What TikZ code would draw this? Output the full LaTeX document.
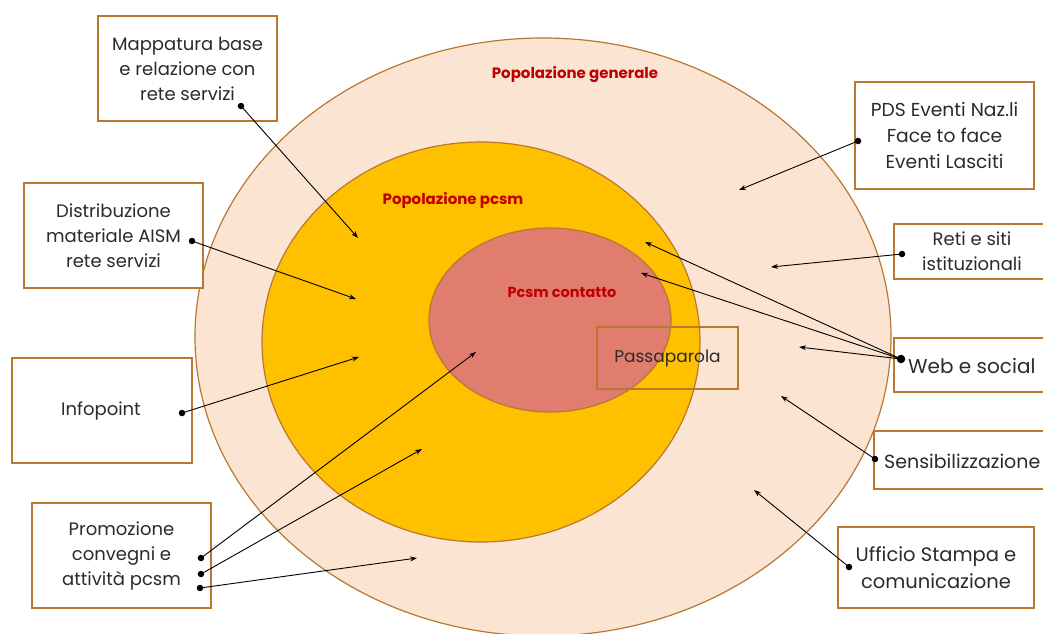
\documentclass[tikz,border=0pt]{standalone}
\usepackage{fontspec}
\setmainfont{Poppins}
\usetikzlibrary{arrows.meta}
\definecolor{peach}{HTML}{FBE5D2}
\definecolor{gold}{HTML}{FFC000}
\definecolor{rose}{HTML}{E07D6E}
\definecolor{edge}{HTML}{B87830}
\definecolor{lbl}{HTML}{C00000}
\definecolor{txt}{HTML}{2B2B2B}
\tikzset{
  ring/.style={draw=edge, line width=1.2pt},
  infobox/.style={draw=edge, line width=1.3pt, fill=white, align=center, text=txt, inner sep=0pt,
    font=\fontsize{18}{25}\selectfont},
  ringlabel/.style={text=lbl, font=\bfseries\fontsize{15}{18}\selectfont},
  link/.style={-{Stealth[length=7pt,width=5pt]}, line width=0.9pt, black},
  dot/.style={circle, fill=black, inner sep=0pt, minimum size=6.5pt}
}
\begin{document}
\begin{tikzpicture}[x=1pt,y=-1pt]
\useasboundingbox (0,0) rectangle (1043,633);
\clip (0,0) rectangle (1043,633);
% rings
\path[ring, fill=peach] (543,337) ellipse [x radius=348, y radius=299];
\path[ring, fill=gold] (481,342) ellipse [x radius=219, y radius=200];
\path[ring, fill=rose] (550,320) ellipse [x radius=121, y radius=92];
\node[ringlabel] (lg) at (575,75) {Popolazione generale};
\node[ringlabel] (lp) at (453,200) {Popolazione pcsm};
\node[ringlabel, font=\bfseries\fontsize{14.5}{18}\selectfont] (lc) at (562,292) {Pcsm contatto};
% passaparola
\node[draw=edge, line width=1.3pt, minimum width=141pt, minimum height=62pt, inner sep=0pt,
  text=txt, font=\fontsize{17}{20}\selectfont] (pp) at (667.5,358) {Passaparola};
% boxes
\node[infobox, minimum width=179pt, minimum height=105pt] (b1) at (187.5,68.5) {Mappatura base\\e relazione con\\rete servizi};
\node[infobox, minimum width=179pt, minimum height=105pt] (b2) at (113.5,235.5) {Distribuzione\\materiale AISM\\rete servizi};
\node[infobox, minimum width=180pt, minimum height=105pt] (b3) at (102,410.5) {\hspace*{-2pt}Infopoint};
\node[infobox, minimum width=179pt, minimum height=105pt] (b4) at (121.5,555.5) {Promozione\\convegni e\\attività pcsm};
\node[infobox, minimum width=179pt, minimum height=107pt, font=\fontsize{18.7}{26}\selectfont] (b5) at (944.5,135.5) {PDS Eventi Naz.li\\Face to face\\Eventi Lasciti};
\node[infobox, minimum width=156pt, minimum height=55pt] (b6) at (972,251.5) {Reti e siti\\istituzionali};
\node[infobox, minimum width=156pt, minimum height=54pt] (b7) at (972,365) {};
\node[infobox, minimum width=176pt, minimum height=58pt] (b8) at (962,460) {};
\node[infobox, minimum width=196pt, minimum height=81pt, font=\fontsize{19.5}{27}\selectfont] (b9) at (936,567.5) {Ufficio Stampa e\\comunicazione};
\node[text=txt, font=\fontsize{20}{25}\selectfont, anchor=west, inner sep=0pt] (t7) at (908,366) {Web e social};
\node[text=txt, font=\fontsize{19}{25}\selectfont, anchor=west, inner sep=0pt] (t8) at (884,461) {Sensibilizzazione};
% dots
\node[dot] (d1) at (241,106) {};
\node[dot] (d2) at (192,241) {};
\node[dot] (d3) at (182,413) {};
\node[dot] (d4a) at (201,558) {};
\node[dot] (d4b) at (201,574) {};
\node[dot] (d4c) at (200,588) {};
\node[dot] (d5) at (858,141) {};
\node[dot] (d6) at (902,254) {};
\node[dot, minimum size=8.5pt] (d7) at (901,359) {};
\node[dot] (d8) at (875,459) {};
\node[dot] (d9) at (849,567) {};
% targets
\coordinate (e1) at (358,238);
\coordinate (e2) at (356,299);
\coordinate (e3) at (359,357);
\coordinate (e4a) at (476,352);
\coordinate (e4b) at (422,449);
\coordinate (e4c) at (417,558);
\coordinate (e5) at (739,190);
\coordinate (e6) at (771,267);
\coordinate (e7a) at (799,347);
\coordinate (e7b) at (645,242);
\coordinate (e7c) at (641,273);
\coordinate (e8) at (781,396);
\coordinate (e9) at (754,490);
% connectors
\draw[link] (d1.center) -- (e1);
\draw[link] (d2.center) -- (e2);
\draw[link] (d3.center) -- (e3);
\draw[link] (d4a.center) -- (e4a);
\draw[link] (d4b.center) -- (e4b);
\draw[link] (d4c.center) -- (e4c);
\draw[link] (d5.center) -- (e5);
\draw[link] (d6.center) -- (e6);
\draw[link] (d7.center) -- (e7a);
\draw[link] (d7.center) -- (e7b);
\draw[link] (d7.center) -- (e7c);
\draw[link] (d8.center) -- (e8);
\draw[link] (d9.center) -- (e9);
\end{tikzpicture}
\end{document}
